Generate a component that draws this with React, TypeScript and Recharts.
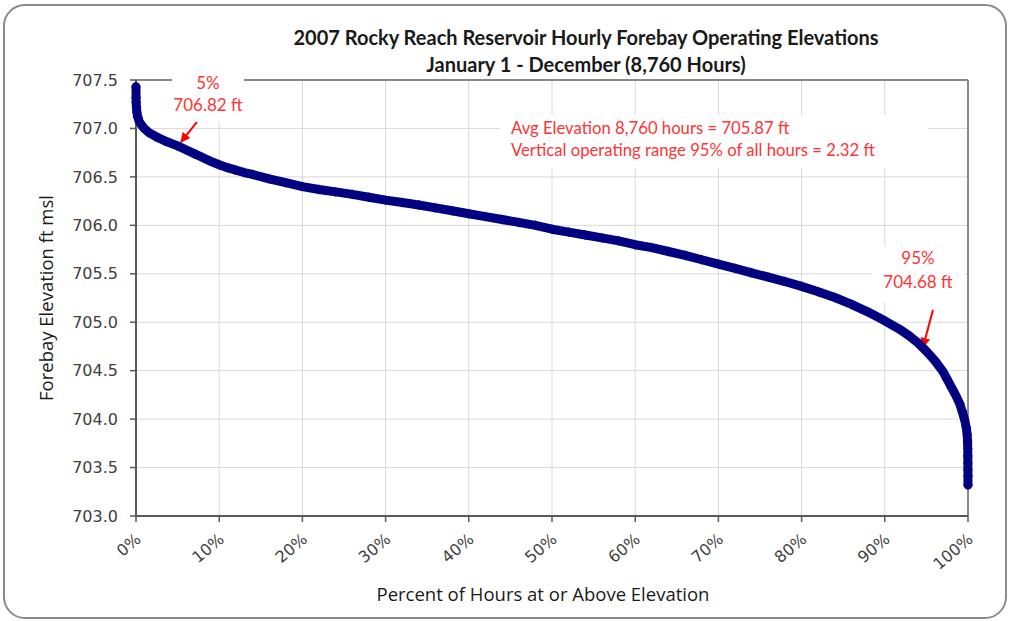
import React from "react";
import {
  CartesianGrid,
  ReferenceLine,
  Scatter,
  ScatterChart,
  XAxis,
  YAxis,
} from "recharts";

// percent of hours at or above elevation
const pct = [
  0, 0.01, 0.02, 0.05, 0.1, 0.2, 0.4, 0.7, 1, 1.5, 2.4, 3.5, 5, 6, 7, 8, 9, 10,
  11, 12, 13, 14, 16, 18, 20, 22, 24, 26, 28, 30, 32, 34, 36, 38, 40, 42, 44,
  46, 48, 50, 52, 54, 56, 58, 60, 62, 64, 66, 68, 70, 72, 74, 76, 78, 80, 82,
  84, 86, 88, 90, 91, 92, 93, 94, 95, 96, 97, 97.5, 98, 98.5, 99, 99.3, 99.6,
  99.8, 99.9, 99.95, 99.97, 99.98, 99.985, 99.99, 99.995, 100,
];

// forebay elevation, ft msl
const elev = [
  707.43, 707.32, 707.27, 707.22, 707.17, 707.12, 707.07, 707.03, 707.0,
  706.96, 706.915, 706.87, 706.82, 706.78, 706.74, 706.7, 706.66, 706.625,
  706.595, 706.57, 706.545, 706.525, 706.48, 706.44, 706.4, 706.37, 706.345,
  706.32, 706.29, 706.26, 706.235, 706.21, 706.18, 706.15, 706.12, 706.09,
  706.06, 706.03, 706.0, 705.96, 705.93, 705.9, 705.87, 705.84, 705.8, 705.77,
  705.73, 705.69, 705.645, 705.6, 705.555, 705.51, 705.465, 705.42, 705.37,
  705.315, 705.255, 705.185, 705.105, 705.015, 704.965, 704.915, 704.855,
  704.785, 704.7, 704.605, 704.49, 704.41, 704.33, 704.25, 704.16, 704.08,
  703.99, 703.91, 703.84, 703.77, 703.7, 703.62, 703.55, 703.48, 703.41,
  703.32,
];

const xTicks = [0, 10, 20, 30, 40, 50, 60, 70, 80, 90, 100];
const yTicks = [703.0, 703.5, 704.0, 704.5, 705.0, 705.5, 706.0, 706.5, 707.0, 707.5];

const data = pct.map((p, i) => ({ p, v: elev[i] }));

const NAVY = "#000080";
const RED = "#ff3333";

const Diamond = (props: any) => {
  const { cx, cy } = props;
  if (cx == null || cy == null) return null;
  const r = 5;
  return (
    <path
      d={`M${cx},${cy - r}L${cx + r},${cy}L${cx},${cy + r}L${cx - r},${cy}Z`}
      fill={NAVY}
    />
  );
};

const XTick = (props: any) => {
  const { x, y, payload } = props;
  return (
    <text
      x={x + 6}
      y={y + 17}
      transform={`rotate(-40, ${x + 6}, ${y + 17})`}
      textAnchor="end"
      fontSize={16}
      fontFamily="DejaVu Sans, sans-serif"
      fill="#404040"
    >
      {payload.value}%
    </text>
  );
};

const labelBox: React.CSSProperties = {
  position: "absolute",
  background: "#fff",
  color: RED,
  fontFamily: "Lato, sans-serif",
  textAlign: "center",
};

export default function App() {
  return (
    <div
      style={{
        position: "absolute",
        left: 0,
        top: 0,
        width: 1010,
        height: 621,
        background: "#fff",
        overflow: "hidden",
      }}
    >
      <div
        style={{
          position: "absolute",
          left: 3,
          top: 4,
          width: 1004,
          height: 615,
          border: "2px solid #8a8a8a",
          borderRadius: 22,
          boxSizing: "border-box",
        }}
      />
      <div style={{ position: "absolute", left: 0, top: 0 }}>
        <ScatterChart
          width={1010}
          height={621}
          margin={{ top: 80, right: 42, bottom: 0, left: 0 }}
        >
          <defs>
            <marker
              id="arrowRed"
              viewBox="0 0 10 10"
              refX="9"
              refY="5"
              markerWidth="5"
              markerHeight="5"
              orient="auto"
            >
              <path d="M0,0L10,5L0,10Z" fill="#ff0000" />
            </marker>
          </defs>
          <CartesianGrid stroke="#d9d9d9" strokeWidth={1} />
          <XAxis
            type="number"
            dataKey="p"
            domain={[0, 100]}
            ticks={xTicks}
            interval={0}
            height={105}
            tick={<XTick />}
            tickSize={6}
            stroke="#595959"
            strokeWidth={2}
            tickLine={{ stroke: "#595959", strokeWidth: 1.5 }}
            label={{
              value: "Percent of Hours at or Above Elevation",
              position: "insideBottom",
              offset: 20,
              dx: -9,
              fontSize: 18.5,
              fontFamily: "Open Sans, sans-serif",
              fill: "#1a1a1a",
            }}
          />
          <YAxis
            type="number"
            dataKey="v"
            domain={[703, 707.5]}
            ticks={yTicks}
            interval={0}
            width={136}
            tickSize={6}
            tickMargin={12}
            tickFormatter={(v: number) => v.toFixed(1)}
            tick={{
              fontSize: 16,
              fontFamily: "DejaVu Sans, sans-serif",
              fill: "#404040",
            }}
            stroke="#595959"
            strokeWidth={2}
            tickLine={{ stroke: "#595959", strokeWidth: 1.5 }}
            label={{
              value: "Forebay Elevation ft msl",
              angle: -90,
              position: "insideLeft",
              offset: 46,
              fontSize: 18.5,
              fontFamily: "Open Sans, sans-serif",
              fill: "#1a1a1a",
              style: { textAnchor: "middle" },
            }}
          />
          <ReferenceLine y={707.5} stroke="#8a8a8a" strokeWidth={2} />
          <ReferenceLine x={100} stroke="#8a8a8a" strokeWidth={2} />
          <Scatter
            data={data}
            isAnimationActive={false}
            shape={<Diamond />}
            line={{ stroke: NAVY, strokeWidth: 9, strokeLinejoin: "round", strokeLinecap: "round" }}
            lineType="joint"
          />
          <ReferenceLine
            segment={[
              { x: 7.33, y: 707.067 },
              { x: 5.41, y: 706.86 },
            ]}
            stroke="#ff0000"
            strokeWidth={2}
            markerEnd="url(#arrowRed)"
            ifOverflow="visible"
          />
          <ReferenceLine
            segment={[
              { x: 95.79, y: 705.126 },
              { x: 94.59, y: 704.745 },
            ]}
            stroke="#ff0000"
            strokeWidth={2}
            markerEnd="url(#arrowRed)"
            ifOverflow="visible"
          />
        </ScatterChart>
      </div>

      <div
        style={{
          position: "absolute",
          left: 0,
          width: 1172,
          top: 24,
          textAlign: "center",
          fontFamily: "Lato, sans-serif",
          fontWeight: 700,
          fontSize: 20,
          lineHeight: "27px",
          color: "#1a1a1a",
        }}
      >
        <div>2007 Rocky Reach Reservoir Hourly Forebay Operating Elevations</div>
        <div>January 1 - December (8,760 Hours)</div>
      </div>

      <div
        style={{
          ...labelBox,
          left: 172,
          top: 72,
          width: 72,
          height: 50,
          fontSize: 17,
          lineHeight: "22px",
        }}
      >
        <div>5%</div>
        <div>706.82 ft</div>
      </div>

      <div
        style={{
          ...labelBox,
          left: 872,
          top: 246,
          width: 92,
          height: 56,
          fontSize: 17,
          lineHeight: "24px",
        }}
      >
        <div>95%</div>
        <div>704.68 ft</div>
      </div>

      <div
        style={{
          ...labelBox,
          left: 500,
          top: 115,
          width: 428,
          height: 53,
          fontSize: 16.7,
          lineHeight: "22px",
          textAlign: "left",
          paddingLeft: 11,
          paddingTop: 2,
          boxSizing: "border-box",
        }}
      >
        <div>Avg Elevation 8,760 hours = 705.87 ft</div>
        <div>Vertical operating range 95% of all hours = 2.32 ft</div>
      </div>
    </div>
  );
}
